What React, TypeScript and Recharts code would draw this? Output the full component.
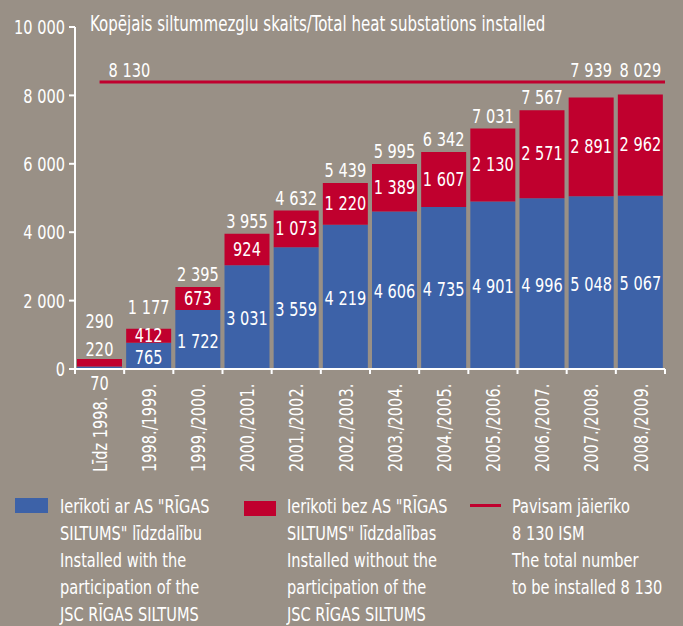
import React from 'react';
import { BarChart, Bar, XAxis, YAxis, ReferenceLine, LabelList } from 'recharts';

const categories = ['Līdz 1998.', '1998./1999.', '1999./2000.', '2000./2001.', '2001./2002.', '2002./2003.', '2003./2004.', '2004./2005.', '2005./2006.', '2006./2007.', '2007./2008.', '2008./2009.'];
const withRS = [70, 765, 1722, 3031, 3559, 4219, 4606, 4735, 4901, 4996, 5048, 5067];
const withoutRS = [220, 412, 673, 924, 1073, 1220, 1389, 1607, 2130, 2571, 2891, 2962];
const totals = [290, 1177, 2395, 3955, 4632, 5439, 5995, 6342, 7031, 7567, 7939, 8029];
const plannedTotal = 8130;
const plannedLineLevel = 8390; // level at which the line is drawn in the picture
const yTicks = [0, 2000, 4000, 6000, 8000, 10000];

const blueLegend = ['Ierīkoti ar AS "RĪGAS', 'SILTUMS" līdzdalību', 'Installed with the', 'participation of the', 'JSC RĪGAS SILTUMS'];
const redLegend = ['Ierīkoti bez AS "RĪGAS', 'SILTUMS" līdzdalības', 'Installed without the', 'participation of the', 'JSC RĪGAS SILTUMS'];
const lineLegend = ['Pavisam jāierīko', '8 130 ISM', 'The total number', 'to be installed 8 130'];
const title = 'Kopējais siltummezglu skaits/Total heat substations installed';

const W = 683;
const H = 626;
const M = { top: 27, right: 18, left: 0, bottom: 0 };
const Y_W = 75;
const X_H = 257;
const PLOT_TOP = M.top;
const PLOT_BOTTOM = H - X_H;
const PLOT_LEFT = M.left + Y_W;
const PLOT_RIGHT = W - M.right;
const BAND = (PLOT_RIGHT - PLOT_LEFT) / categories.length;
const lineY = PLOT_BOTTOM - (plannedLineLevel / 10000) * (PLOT_BOTTOM - PLOT_TOP);

const BG = '#999086';
const BLUE = '#3d62a8';
const RED = '#c0002e';
const FONT = "'DejaVu Sans Condensed', 'DejaVu Sans', sans-serif";
const FS = 20;
const SX = 0.81;

const fmt = (n: number) => String(n).replace(/\B(?=(\d{3})+(?!\d))/g, ' ');

const data = categories.map((c, i) => ({ cat: c, blue: withRS[i], red: withoutRS[i], total: totals[i] }));

const ST = ({ x, y, anchor = 'middle', rotate = false, children }: any) => (
  <text
    transform={`translate(${x} ${y})${rotate ? ' rotate(-90)' : ''} scale(${SX} 1)`}
    x={0}
    y={0}
    textAnchor={anchor}
    dominantBaseline="central"
    fill="#ffffff"
    fontFamily={FONT}
    fontSize={FS}
    fontStretch="condensed"
  >
    {children}
  </text>
);

const BlueLabel = (p: any) => {
  const { x, y, width, height, value } = p;
  const cx = x + width / 2;
  if (height < 10) {
    return <ST x={cx} y={y + height + 14}>{fmt(value)}</ST>;
  }
  return <ST x={cx} y={y + height / 2 + 1}>{fmt(value)}</ST>;
};

const RedLabel = (p: any) => {
  const { x, y, width, height, value, index } = p;
  const cx = x + width / 2;
  const total = totals[index];
  const outside = height < 10;
  const cramped = height < 20;
  const segY = outside ? y - 10 : y + height / 2 - 1;
  let ty = outside ? y - 38 : cramped ? y - 22 : y - 13;
  if (ty > lineY - 12 && ty < lineY + 10) ty = lineY - 12;
  return (
    <g>
      <ST x={cx} y={segY}>{fmt(value)}</ST>
      <ST x={cx} y={ty}>{fmt(total)}</ST>
    </g>
  );
};

const XTick = (p: any) => {
  const { x, y, payload, index } = p;
  return (
    <g>
      <line x1={x - BAND / 2} x2={x - BAND / 2} y1={y} y2={y + 5} stroke="#fff" strokeWidth={2} />
      {index === categories.length - 1 && (
        <line x1={x + BAND / 2} x2={x + BAND / 2} y1={y} y2={y + 5} stroke="#fff" strokeWidth={2} />
      )}
      <ST x={x} y={472} anchor="start" rotate>{payload.value}</ST>
    </g>
  );
};

const YTick = (p: any) => {
  const { x, y, payload } = p;
  return <ST x={x} y={y} anchor="end">{fmt(payload.value)}</ST>;
};

const PlanLine = (p: any) => {
  const { x1, x2, y1 } = p;
  const half = (x2 - x1) / (categories.length * 2);
  return (
    <g>
      <line x1={x1 + half} x2={x2} y1={y1} y2={y1} stroke={RED} strokeWidth={3} />
      <ST x={x1 + half + 9} y={y1 - 12} anchor="start">{fmt(plannedTotal)}</ST>
    </g>
  );
};

const textLine: React.CSSProperties = {
  color: '#fff',
  fontFamily: FONT,
  fontSize: FS,
  lineHeight: '27px',
  height: 27,
  fontStretch: 'condensed',
  whiteSpace: 'nowrap',
  transform: `scaleX(${SX})`,
  transformOrigin: 'left center',
};

const LegendBlock = ({ marker, lines, textLeft }: any) => (
  <>
    {marker}
    <div style={{ position: 'absolute', left: textLeft, top: 0 }}>
      {lines.map((l: string, i: number) => <div key={i} style={textLine}>{l}</div>)}
    </div>
  </>
);

export default function App() {
  return (
    <div style={{ position: 'absolute', left: 0, top: 0, width: W, height: H, background: BG, overflow: 'hidden' }}>
      <div style={{ position: 'absolute', left: 90, top: 12, ...textLine, fontSize: 22, lineHeight: '24px', height: 24, transform: 'scaleX(0.76)' }}>
        {title}
      </div>
      <BarChart width={W} height={H} data={data} margin={M} barCategoryGap={2}>
        <YAxis
          width={Y_W}
          domain={[0, 10000]}
          ticks={yTicks}
          interval={0}
          axisLine={{ stroke: '#fff', strokeWidth: 2 }}
          tickLine={{ stroke: '#fff', strokeWidth: 2 }}
          tickSize={6}
          tickMargin={4}
          tick={<YTick />}
        />
        <XAxis
          dataKey="cat"
          height={X_H}
          interval={0}
          axisLine={{ stroke: '#fff', strokeWidth: 2 }}
          tickLine={false}
          tickSize={0}
          tickMargin={0}
          tick={<XTick />}
        />
        <Bar dataKey="blue" stackId="a" fill={BLUE} isAnimationActive={false}>
          <LabelList dataKey="blue" content={<BlueLabel />} />
        </Bar>
        <Bar dataKey="red" stackId="a" fill={RED} isAnimationActive={false}>
          <LabelList dataKey="red" content={<RedLabel />} />
        </Bar>
        <ReferenceLine y={plannedLineLevel} shape={<PlanLine />} ifOverflow="extendDomain" />
      </BarChart>
      <div style={{ position: 'absolute', left: 0, top: 493, width: W, height: 133 }}>
        <LegendBlock
          marker={<div style={{ position: 'absolute', left: 15, top: 5, width: 33, height: 15, background: BLUE }} />}
          lines={blueLegend}
          textLeft={60}
        />
        <LegendBlock
          marker={<div style={{ position: 'absolute', left: 244, top: 8, width: 32, height: 15, background: RED }} />}
          lines={redLegend}
          textLeft={287}
        />
        <LegendBlock
          marker={<div style={{ position: 'absolute', left: 470, top: 11, width: 31, height: 3, background: RED }} />}
          lines={lineLegend}
          textLeft={512}
        />
      </div>
    </div>
  );
}
